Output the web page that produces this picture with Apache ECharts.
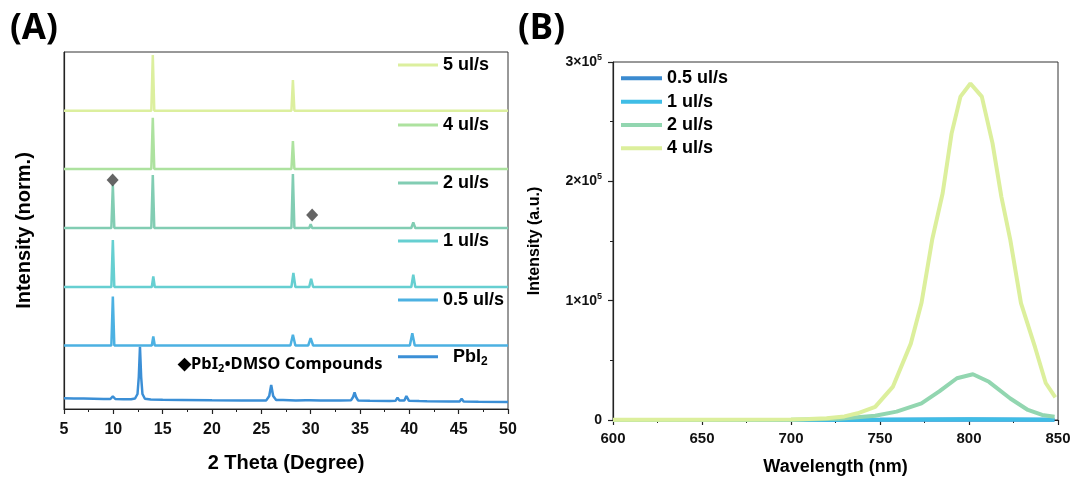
<!DOCTYPE html>
<html>
<head>
<meta charset="utf-8">
<script src="https://cdn.jsdelivr.net/npm/echarts@6/dist/echarts.min.js"></script>
<style>
  html, body { margin: 0; padding: 0; background: #fff; }
  #chart { width: 1077px; height: 481px; }
</style>
</head>
<body>
<div id="chart"></div>
<script>
// ---------------- Panel A: XRD (2 Theta, normalized, stacked) ----------------
const xrdNames = ['PbI2', '0.5 ul/s', '1 ul/s', '2 ul/s', '4 ul/s', '5 ul/s'];
const xrdOffsets = [7, 63.5, 122, 181, 240, 298.3];
const xrdColors = ['#3b8fd6', '#4cb1e2', '#66cfd1', '#82cdb3', '#ade29f', '#dcef9e'];

const xrdPbI2 = [
  [5,3.7],[6,3.5],[7,3.4],[8,3.2],[9,3.0],[9.7,3.0],[9.95,5.7],[10.2,3.0],[11,2.8],[11.8,2.8],
  [12.2,3.5],[12.45,8],[12.58,25],[12.7,55.3],[12.82,25],[12.95,8],[13.2,3.2],[13.8,2.5],[15,2.2],
  [17,2.0],[20,1.7],[23,1.6],[25.5,1.6],[25.8,6],[26.0,17],[26.2,6],[26.5,2.0],[26.8,2.0],[27.0,4.0],
  [27.2,2.0],[28.5,1.6],[29.5,1.8],[29.7,3.5],[29.9,1.8],[31,1.6],[33,1.5],[34.1,1.8],[34.3,5],
  [34.45,9.7],[34.6,5],[34.8,1.6],[36,1.3],[38,1.1],[38.6,1.2],[38.8,4.3],[39.0,1.6],[39.5,1.6],
  [39.7,6.0],[39.95,1.3],[41,0.9],[41.8,0.8],[41.9,2.5],[42.0,0.8],[44,0.6],[45.1,0.6],[45.3,3.3],
  [45.5,0.6],[47,0.3],[50,0]
];
const xrd05 = [
  [5,0],[9.8,0],[9.95,49],[10.1,0],[13.9,0],[14.05,9],[14.2,0],[19.75,0],[19.9,1.5],[20.05,0],
  [27.95,0],[28.2,10.7],[28.45,0],[29.75,0],[30.0,7.3],[30.25,0],[40.05,0],[40.3,12.3],[40.55,0],[50,0]
];
const xrd1 = [
  [5,0],[9.8,0],[9.95,47],[10.1,0],[13.9,0],[14.05,10.7],[14.2,0],[19.75,0],[19.9,1.5],[20.05,0],
  [28.05,0],[28.25,14],[28.45,0],[29.85,0],[30.05,8.3],[30.25,0],[40.2,0],[40.4,12.3],[40.6,0],[50,0]
];
const xrd2 = [
  [5,0],[6.45,0],[6.6,1.5],[6.75,0],[9.8,0],[9.95,43],[10.1,0],[13.85,0],[14.0,53],[14.15,0],
  [19.75,0],[19.9,1.2],[20.05,0],[28.05,0],[28.2,54],[28.35,0],[29.85,0],[30.0,3.7],[30.15,0],
  [40.2,0],[40.4,5.7],[40.6,0],[42.85,0],[43.0,1.5],[43.15,0],[50,0]
];
const xrd4 = [
  [5,0],[13.85,0],[14.0,51.3],[14.15,0],[24.25,0],[24.4,1.0],[24.55,0],[28.05,0],[28.2,28],[28.35,0],
  [42.85,0],[43.0,1.0],[43.15,0],[50,0]
];
const xrd5 = [
  [5,0],[12.45,0],[12.6,1.5],[12.75,0],[13.85,0],[14.0,55.7],[14.15,0],[24.25,0],[24.4,1.5],[24.55,0],
  [28.05,0],[28.2,30.7],[28.35,0],[31.45,0],[31.6,0.8],[31.75,0],[42.85,0],[43.0,1.2],[43.15,0],[50,0]
];
const xrdData = [xrdPbI2, xrd05, xrd1, xrd2, xrd4, xrd5];
// diamond markers (PbI2•DMSO compound peaks), in stacked units
const diamondPoints = [[9.93, 229], [30.15, 194]];
const xrdTicks = { min: 5, max: 50, interval: 5 };

// ---------------- Panel B: PL spectra ----------------
const plNames = ['0.5 ul/s', '1 ul/s', '2 ul/s', '4 ul/s'];
const plColors = ['#3b8bd0', '#3fbde6', '#92d6b0', '#dcef9c'];
const wl05 = [600, 700, 750, 800, 848];
const pl05 = [0, 0, 200, 400, 200];
const wl1 = [600, 700, 750, 800, 848];
const pl1 = [0, 100, 300, 600, 300];
const wl2 = [600, 700, 727.4, 747.3, 759.3, 773.3, 783.3, 793.2, 802.2, 811.2, 823.2, 833.1, 841.1, 848.1];
const pl2 = [0, 300, 1000, 3600, 7000, 14000, 24000, 35000, 38300, 32000, 18000, 8400, 4200, 2800];
const wl4 = [600, 650, 700, 710, 720, 730, 737.4, 747.3, 757.3, 767.3, 773.3, 779.3, 785.2, 790.2, 795.2,
             800.8, 807.2, 813.2, 818.2, 823.2, 829.2, 837.1, 843.1, 848.5];
const pl4 = [200, 300, 500, 800, 1500, 3000, 5600, 11000, 28000, 64000, 98000, 151000, 190000, 240000, 271000,
             282000, 271000, 232000, 187000, 151000, 98000, 61000, 31000, 19000];
const plWl = [wl05, wl1, wl2, wl4];
const plI = [pl05, pl1, pl2, pl4];
const plTickMantissa = [0, 1, 2, 3];
const plTickExp = '5';

// ---------------- build ----------------
const FONT = '"Liberation Sans", Arial, sans-serif';
const chart = echarts.init(document.getElementById('chart'), null, { renderer: 'canvas' });

const series = [];
xrdNames.forEach((n, i) => {
  series.push({
    name: n, type: 'line', xAxisIndex: 0, yAxisIndex: 0,
    data: xrdData[i].map(p => [p[0], p[1] + xrdOffsets[i]]),
    showSymbol: false, symbol: 'none', smooth: false,
    lineStyle: { color: xrdColors[i], width: 2.5 },
    itemStyle: { color: xrdColors[i] },
    z: 2, silent: true, animation: false
  });
});
series.push({
  name: 'diamond', type: 'scatter', xAxisIndex: 0, yAxisIndex: 0,
  data: diamondPoints, symbol: 'diamond', symbolSize: [12, 13],
  itemStyle: { color: '#3f3f3f' }, z: 5, silent: true, animation: false
});
plNames.forEach((n, i) => {
  series.push({
    name: 'PL ' + n, type: 'line', xAxisIndex: 1, yAxisIndex: 1,
    data: plWl[i].map((w, k) => [w, plI[i][k]]),
    showSymbol: false, symbol: 'none', smooth: false,
    lineStyle: { color: plColors[i], width: 4 },
    itemStyle: { color: plColors[i] },
    z: 2 + i, silent: true, animation: false
  });
});

const legendTextA = {
  fontFamily: FONT, fontWeight: 'bold', fontSize: 18, color: '#000', lineHeight: 20,
  rich: {
    a: { fontFamily: FONT, fontWeight: 'bold', fontSize: 18, color: '#000', lineHeight: 22, padding: [0, 0, 0, 10] },
    s: { fontFamily: FONT, fontWeight: 'bold', fontSize: 12, color: '#000', lineHeight: 10, verticalAlign: 'bottom' }
  }
};
const legendYA = { '5 ul/s': 65, '4 ul/s': 125, '2 ul/s': 183, '1 ul/s': 241, '0.5 ul/s': 300, 'PbI2': 356.7 };
const legends = [];
Object.keys(legendYA).forEach(n => {
  const isPb = n === 'PbI2';
  legends.push({
    data: [n], left: 398, top: legendYA[n] - (isPb ? 11 : 10), padding: 0,
    icon: 'rect', itemWidth: 40, itemHeight: 3, selectedMode: false,
    formatter: isPb ? '{a|PbI}{s|2}' : '{name}',
    textStyle: legendTextA
  });
});
const legendYB = [78.3, 101.7, 125, 148.3];
plNames.forEach((n, i) => {
  legends.push({
    data: ['PL ' + n], left: 621, top: legendYB[i] - 10, padding: 0,
    icon: 'rect', itemWidth: 41, itemHeight: 4, selectedMode: false,
    formatter: name => name.replace('PL ', ''),
    textStyle: { fontFamily: FONT, fontWeight: 'bold', fontSize: 18, color: '#000', lineHeight: 20 }
  });
});

const axisLineStyle = { color: '#222', width: 1.2 };
const option = {
  backgroundColor: '#fff',
  animation: false,
  grid: [
    { left: 64, top: 52, width: 444, height: 357, show: true, borderColor: '#333', borderWidth: 1, backgroundColor: 'transparent' },
    { left: 613, top: 62, width: 445, height: 358, show: true, borderColor: '#333', borderWidth: 1, backgroundColor: 'transparent' }
  ],
  xAxis: [
    {
      gridIndex: 0, type: 'value', min: xrdTicks.min, max: xrdTicks.max, interval: xrdTicks.interval,
      name: '2 Theta (Degree)', nameLocation: 'middle', nameGap: 44,
      nameTextStyle: { fontFamily: FONT, fontWeight: 'bold', fontSize: 20, color: '#000' },
      axisLine: { show: true, lineStyle: axisLineStyle },
      axisTick: { show: true, inside: false, length: 5, lineStyle: { color: '#222', width: 1.2 } },
      minorTick: { show: true, splitNumber: 2, length: 3, lineStyle: { color: '#222', width: 1 } },
      axisLabel: { fontFamily: FONT, fontWeight: 'bold', fontSize: 16, color: '#111', margin: 13 },
      splitLine: { show: false }, minorSplitLine: { show: false }
    },
    {
      gridIndex: 1, type: 'value', min: 600, max: 850, interval: 50,
      name: 'Wavelength (nm)', nameLocation: 'middle', nameGap: 38,
      nameTextStyle: { fontFamily: FONT, fontWeight: 'bold', fontSize: 18, color: '#000' },
      axisLine: { show: true, lineStyle: axisLineStyle },
      axisTick: { show: true, inside: false, length: 5, lineStyle: { color: '#222', width: 1.2 } },
      minorTick: { show: true, splitNumber: 2, length: 3, lineStyle: { color: '#222', width: 1 } },
      axisLabel: { fontFamily: FONT, fontWeight: 'bold', fontSize: 15, color: '#111', margin: 11 },
      splitLine: { show: false }, minorSplitLine: { show: false }
    }
  ],
  yAxis: [
    {
      gridIndex: 0, type: 'value', min: 0, max: 357,
      name: 'Intensity (norm.)', nameLocation: 'middle', nameGap: 30,
      nameTextStyle: { fontFamily: FONT, fontWeight: 'bold', fontSize: 20, color: '#000' },
      axisLine: { show: true, lineStyle: axisLineStyle },
      axisTick: { show: false }, axisLabel: { show: false },
      splitLine: { show: false }
    },
    {
      gridIndex: 1, type: 'value', min: 0, max: 3e5, interval: 1e5,
      name: 'Intensity (a.u.)', nameLocation: 'middle', nameGap: 70,
      nameTextStyle: { fontFamily: FONT, fontWeight: 'bold', fontSize: 16, color: '#000' },
      axisLine: { show: true, lineStyle: axisLineStyle },
      axisTick: { show: true, inside: false, length: 5, lineStyle: { color: '#222', width: 1.2 } },
      minorTick: { show: true, splitNumber: 2, length: 3, lineStyle: { color: '#222', width: 1 } },
      axisLabel: {
        margin: 11, color: '#111',
        formatter: v => {
          const m = plTickMantissa.find(t => Math.abs(t * 1e5 - v) < 1);
          if (m === 0) return '{m|0}';
          return '{m|' + m + '×10}{s|' + plTickExp + '}';
        },
        rich: {
          m: { fontFamily: FONT, fontWeight: 'bold', fontSize: 14, color: '#111', lineHeight: 18 },
          s: { fontFamily: FONT, fontWeight: 'bold', fontSize: 9, color: '#111', lineHeight: 9, verticalAlign: 'top' }
        }
      },
      splitLine: { show: false }, minorSplitLine: { show: false }
    }
  ],
  legend: legends,
  series: series,
  graphic: [
    { type: 'text', left: 10, top: 12, style: { text: '(A)', font: 'bold 35px "Noto Sans"', fill: '#000' } },
    { type: 'text', left: 518, top: 12, style: { text: '(B)', font: 'bold 35px "Noto Sans"', fill: '#000' } },
    {
      type: 'text', left: 178, top: 356,
      style: {
        text: '{a|◆PbI}{s|2}{a|•DMSO Compounds}',
        rich: {
          a: { font: 'bold 16.5px "Noto Sans"', fill: '#000', lineHeight: 20 },
          s: { font: 'bold 11px "Noto Sans"', fill: '#000', lineHeight: 10, verticalAlign: 'bottom' }
        }
      }
    }
  ]
};
chart.setOption(option);
</script>
</body>
</html>
